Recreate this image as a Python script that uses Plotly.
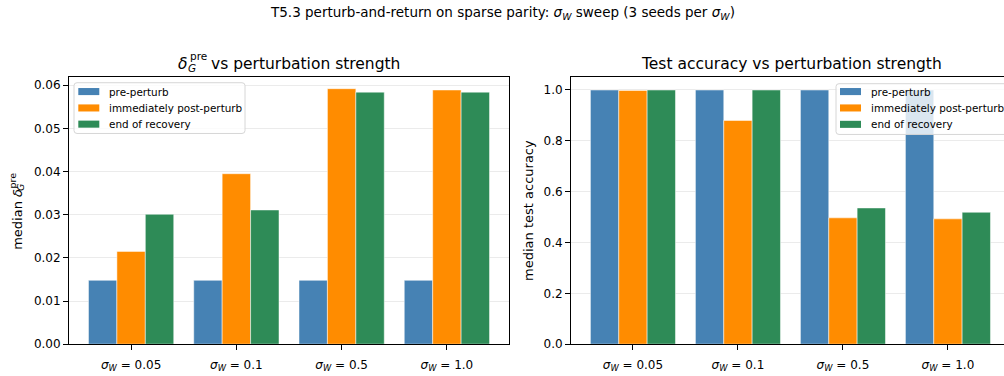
import plotly.graph_objects as go

categories = ["0.05", "0.1", "0.5", "1.0"]
series_names = ["pre-perturb", "immediately post-perturb", "end of recovery"]
colors = ["#4682B4", "#FF8C00", "#2E8B57"]

delta_pre = [0.0148, 0.0148, 0.0148, 0.0148]
delta_post = [0.0215, 0.0395, 0.0592, 0.0589]
delta_end = [0.0301, 0.0311, 0.0584, 0.0584]

acc_pre = [1.0, 1.0, 1.0, 1.0]
acc_post = [0.998, 0.880, 0.497, 0.493]
acc_end = [1.0, 1.0, 0.536, 0.519]

tick_text = ["<i>σ</i><sub><i>W</i></sub> = " + c for c in categories]
xs = list(range(len(categories)))

W, H = 1004, 376
FONT = "DejaVu Sans"

fig = go.Figure()

for vals, name, col in zip([delta_pre, delta_post, delta_end], series_names, colors):
    fig.add_trace(go.Bar(x=xs, y=vals, name=name, marker=dict(color=col, line=dict(color="white", width=0.5)),
                         xaxis="x", yaxis="y", width=0.27, showlegend=False))
for vals, name, col in zip([acc_pre, acc_post, acc_end], series_names, colors):
    fig.add_trace(go.Bar(x=xs, y=vals, name=name, marker=dict(color=col, line=dict(color="white", width=0.5)),
                         xaxis="x2", yaxis="y2", width=0.27, showlegend=False))


def px(x):
    return x / W


def py(y):
    return (H - y) / H


ybot, ytop = 350.7, 78.5
axis_common = dict(showline=True, linecolor="black", linewidth=1, ticks="outside", ticklen=5,
                   tickcolor="black", tickfont=dict(family=FONT, size=12, color="black"))

fig.update_layout(
    width=W, height=H, margin=dict(l=0, r=0, t=0, b=0),
    plot_bgcolor="white", paper_bgcolor="white",
    barmode="group", bargap=0.19, bargroupgap=0,
    font=dict(family=FONT, color="black"),
    showlegend=False,
    xaxis=dict(domain=[px(69), px(509)], range=[-0.59, 3.59], tickvals=xs, ticktext=tick_text,
               mirror=True, showgrid=False, anchor="y", ticklabelstandoff=4, **axis_common),
    yaxis=dict(domain=[py(ybot), py(ytop)], range=[0, 0.0619], dtick=0.01, tickformat=".2f",
               mirror=True, showgrid=True, gridcolor="#ebebeb", gridwidth=0.8, zeroline=False, anchor="x",
               **axis_common),
    xaxis2=dict(domain=[px(571), 1.0], range=[-0.59, -0.59 + (1004 - 571) / 105.0], tickvals=xs, ticktext=tick_text,
                mirror=True, showgrid=False, anchor="y2", ticklabelstandoff=4, **axis_common),
    yaxis2=dict(domain=[py(ybot), py(ytop)], range=[0, 1.051], dtick=0.2, tickformat=".1f",
                mirror=False, showgrid=True, gridcolor="#ebebeb", gridwidth=0.8, zeroline=False, anchor="x2",
                title=dict(text="median test accuracy", font=dict(family=FONT, size=13), standoff=6),
                **axis_common),
)


def ann(text, x, y, size, xanchor="center", yanchor="middle", angle=0):
    fig.add_annotation(text=text, xref="paper", yref="paper", x=px(x), y=py(y), xanchor=xanchor,
                       yanchor=yanchor, showarrow=False, textangle=angle,
                       font=dict(family=FONT, size=size, color="black"))


# suptitle
ann("T5.3 perturb-and-return on sparse parity: <i>σ</i><sub><i>W</i></sub> sweep (3 seeds per <i>σ</i><sub><i>W</i></sub>)",
    502, 13, 13.5)

# left title with stacked super/subscript
ann("<i>δ</i>", 176, 65, 15.5, xanchor="left")
ann("pre", 187.5, 57, 10.5, xanchor="left")
ann("<i>G</i>", 185.5, 69.5, 10.5, xanchor="left")
ann("vs perturbation strength", 209, 65, 15.5, xanchor="left")

# right title
ann("Test accuracy vs perturbation strength", 791, 65, 15.5)

# left y-axis label (rotated) with stacked super/subscript
ann("median <i>δ</i>", 18, 224, 13, angle=-90)
ann("pre", 13, 184, 9.5, angle=-90)
ann("<i>G</i>", 21, 191.5, 9.5, angle=-90)


def legend(x0, x1, y0, y1, sw_x, txt_x, item_ys):
    r = 3
    path = (f"M {px(x0 + r)},{py(y0)} L {px(x1 - r)},{py(y0)} Q {px(x1)},{py(y0)} {px(x1)},{py(y0 + r)} "
            f"L {px(x1)},{py(y1 - r)} Q {px(x1)},{py(y1)} {px(x1 - r)},{py(y1)} "
            f"L {px(x0 + r)},{py(y1)} Q {px(x0)},{py(y1)} {px(x0)},{py(y1 - r)} "
            f"L {px(x0)},{py(y0 + r)} Q {px(x0)},{py(y0)} {px(x0 + r)},{py(y0)} Z")
    fig.add_shape(type="path", path=path, xref="paper", yref="paper", layer="above",
                  fillcolor="rgba(255,255,255,0.8)", line=dict(color="#d6d6d6", width=1))
    for name, col, yy in zip(series_names, colors, item_ys):
        fig.add_shape(type="rect", xref="paper", yref="paper", layer="above",
                      x0=px(sw_x), x1=px(sw_x + 21), y0=py(yy - 3.6), y1=py(yy + 3.6),
                      fillcolor=col, line=dict(width=0))
        ann(name, txt_x, yy, 10.4, xanchor="left")


legend(74, 245, 84.3, 136, 78.3, 107, [93.3, 110.0, 126.5])
legend(836, 1012, 85.3, 137, 840, 868.5, [93.3, 110.0, 126.7])

fig.write_html("out.html")
